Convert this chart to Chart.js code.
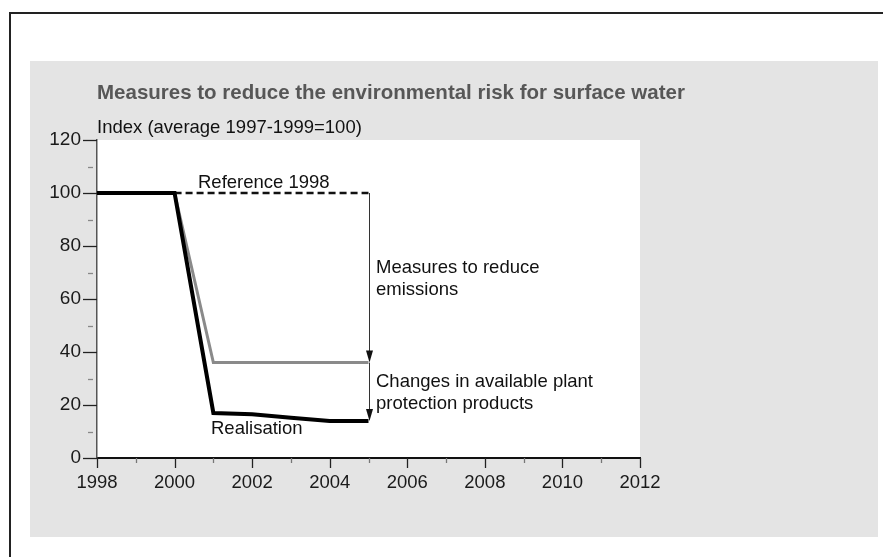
<!DOCTYPE html>
<html>
<head>
<meta charset="utf-8">
<script src="https://cdn.jsdelivr.net/npm/chart.js@4/dist/chart.umd.min.js"></script>
<style>
  html, body { margin: 0; padding: 0; background: #ffffff; }
  #wrap { width: 883px; height: 557px; }
</style>
</head>
<body>
<div id="wrap"><canvas id="c" width="883" height="557"></canvas></div>
<script>
// Index values, average 1997-1999 = 100
const years = [1998, 2000, 2001, 2002, 2003, 2004, 2005];
const realisation = [100, 100, 17, 16.5, 15.2, 14, 14];
const emissionYears = [1998, 2000, 2001, 2005];
const emissionMeasures = [100, 100, 36, 36];
const referenceYears = [2000, 2005];
const reference1998 = [100, 100];
const xTickLabels = [1998, 2000, 2002, 2004, 2006, 2008, 2010, 2012];
const yTickLabels = [0, 20, 40, 60, 80, 100, 120];

const FONT = '"Liberation Sans", Arial, Helvetica, sans-serif';

const pts = (xs, ys) => xs.map((x, i) => ({ x: x, y: ys[i] }));

// Frame, grey panel, white plot area, tick marks, arrows and text labels
const decor = {
  id: 'decor',
  beforeDraw(chart) {
    const { ctx, chartArea: a } = chart;
    ctx.save();
    ctx.fillStyle = '#ffffff';
    ctx.fillRect(0, 0, chart.width, chart.height);
    // outer frame
    ctx.strokeStyle = '#222222';
    ctx.lineWidth = 2;
    ctx.beginPath();
    ctx.moveTo(10, 557);
    ctx.lineTo(10, 13);
    ctx.lineTo(883, 13);
    ctx.stroke();
    // grey panel
    ctx.fillStyle = '#e4e4e4';
    ctx.fillRect(30, 61, 848, 476);
    // plot area
    ctx.fillStyle = '#ffffff';
    ctx.fillRect(a.left, a.top, a.right - a.left, a.bottom - a.top);
    // headings
    ctx.textBaseline = 'middle';
    ctx.textAlign = 'left';
    ctx.fillStyle = '#575757';
    ctx.font = 'bold 20.5px ' + FONT;
    ctx.fillText('Measures to reduce the environmental risk for surface water', 97, 93);
    ctx.fillStyle = '#111111';
    ctx.font = '18.5px ' + FONT;
    ctx.fillText('Index (average 1997-1999=100)', 97, 128);
    ctx.restore();
  },
  afterDraw(chart) {
    const { ctx, scales: { x, y }, chartArea: a } = chart;
    ctx.save();
    // x tick marks: major on even years, short minor on odd years
    for (let yr = 1998; yr <= 2012; yr++) {
      const px = Math.round(x.getPixelForValue(yr)) + 0.5;
      const major = yr % 2 === 0;
      ctx.strokeStyle = major ? '#222222' : '#777777';
      ctx.lineWidth = 1.3;
      ctx.beginPath();
      ctx.moveTo(px, a.bottom);
      ctx.lineTo(px, a.bottom + (major ? 10 : 5));
      ctx.stroke();
    }
    // y tick marks: major every 20, short minor between
    for (let v = 0; v <= 120; v += 10) {
      const py = Math.round(y.getPixelForValue(v)) + 0.5;
      const major = v % 20 === 0;
      ctx.strokeStyle = major ? '#222222' : '#888888';
      ctx.lineWidth = 1.3;
      ctx.beginPath();
      ctx.moveTo(major ? a.left - 14 : a.left - 9, py);
      ctx.lineTo(major ? a.left : a.left - 4, py);
      ctx.stroke();
    }
    // arrows at 2005: reference -> emission measures -> realisation
    const ax = Math.round(x.getPixelForValue(referenceYears[1])) + 0.5;
    const arrow = (v0, v1) => {
      const y0 = y.getPixelForValue(v0);
      const y1 = y.getPixelForValue(v1);
      ctx.strokeStyle = '#333333';
      ctx.lineWidth = 1;
      ctx.beginPath();
      ctx.moveTo(ax, y0);
      ctx.lineTo(ax, y1 - 10);
      ctx.stroke();
      ctx.fillStyle = '#111111';
      ctx.beginPath();
      ctx.moveTo(ax - 3.5, y1 - 12);
      ctx.lineTo(ax + 3.5, y1 - 12);
      ctx.lineTo(ax, y1);
      ctx.closePath();
      ctx.fill();
    };
    arrow(reference1998[1], emissionMeasures[3]);
    arrow(emissionMeasures[3], realisation[realisation.length - 1]);
    // text labels
    ctx.fillStyle = '#111111';
    ctx.font = '18.5px ' + FONT;
    ctx.textBaseline = 'middle';
    ctx.textAlign = 'left';
    ctx.fillText('Reference 1998', 198, 183);
    ctx.fillText('Measures to reduce', 376, 268);
    ctx.fillText('emissions', 376, 290);
    ctx.fillText('Changes in available plant', 376, 382);
    ctx.fillText('protection products', 376, 404);
    ctx.fillText('Realisation', 211, 429);
    ctx.restore();
  }
};

new Chart(document.getElementById('c'), {
  type: 'line',
  data: {
    datasets: [
      {
        label: 'Reference 1998',
        data: pts(referenceYears, reference1998),
        borderColor: '#111111',
        borderWidth: 2.5,
        borderDash: [7, 4],
        pointRadius: 0,
        order: 3
      },
      {
        label: 'Measures to reduce emissions',
        data: pts(emissionYears, emissionMeasures),
        borderColor: '#8a8a8a',
        borderWidth: 3,
        pointRadius: 0,
        order: 2
      },
      {
        label: 'Realisation',
        data: pts(years, realisation),
        borderColor: '#000000',
        borderWidth: 4,
        borderJoinStyle: 'miter',
        pointRadius: 0,
        order: 1
      }
    ]
  },
  options: {
    responsive: false,
    animation: false,
    events: [],
    layout: { padding: { left: 0, top: 140, right: 243, bottom: 0 } },
    plugins: { legend: { display: false }, tooltip: { enabled: false }, title: { display: false } },
    elements: { line: { tension: 0 } },
    scales: {
      x: {
        type: 'linear',
        min: 1998,
        max: 2012,
        afterFit(s) { s.height = 99; },
        afterBuildTicks(s) { s.ticks = xTickLabels.map(v => ({ value: v })); },
        grid: { display: false },
        border: { display: true, color: '#111111', width: 2 },
        ticks: {
          color: '#1a1a1a',
          font: { family: FONT, size: 18.5 },
          padding: 6,
          maxRotation: 0,
          autoSkip: false,
          callback: v => String(v)
        }
      },
      y: {
        type: 'linear',
        min: 0,
        max: 120,
        afterFit(s) { s.width = 97; },
        afterBuildTicks(s) { s.ticks = yTickLabels.map(v => ({ value: v })); },
        grid: { display: false },
        border: { display: true, color: '#555555', width: 1.5 },
        ticks: {
          color: '#1a1a1a',
          font: { family: FONT, size: 19 },
          padding: 8,
          autoSkip: false,
          callback: v => String(v)
        }
      }
    }
  },
  plugins: [decor]
});
</script>
</body>
</html>
